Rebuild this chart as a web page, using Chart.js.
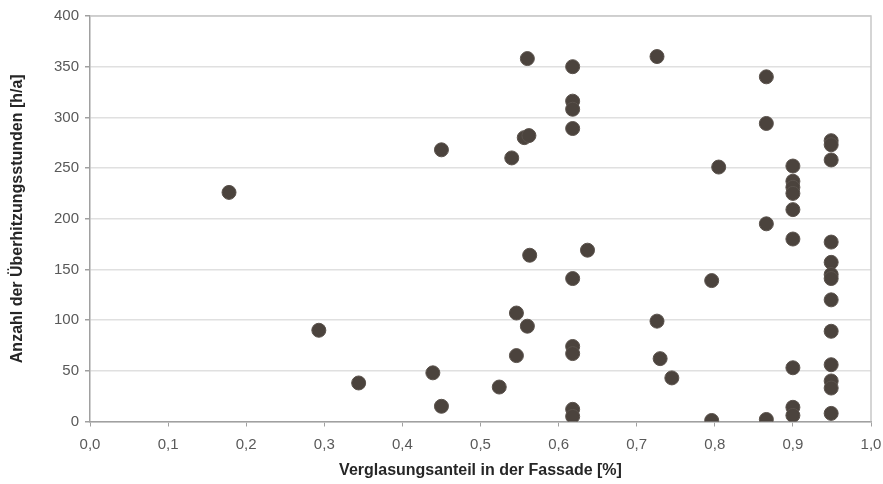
<!DOCTYPE html>
<html>
<head>
<meta charset="utf-8">
<script src="https://cdn.jsdelivr.net/npm/chart.js@4/dist/chart.umd.min.js"></script>
<style>
  body { margin: 0; background: #fff; }
  canvas { display: block; }
</style>
</head>
<body>
<canvas id="grafica" width="883" height="484"></canvas>
<script>
// Verglasungsanteil (x) und Überhitzungsstunden (y)
const verglasung = [
  0.178, 0.293, 0.344, 0.439, 0.450, 0.450,
  0.524, 0.540, 0.546, 0.546, 0.556, 0.560, 0.560, 0.562, 0.563,
  0.618, 0.618, 0.618, 0.618, 0.618, 0.618, 0.618, 0.618, 0.618, 0.637,
  0.726, 0.726, 0.730, 0.745,
  0.796, 0.796, 0.805,
  0.866, 0.866, 0.866, 0.866,
  0.900, 0.900, 0.900, 0.900, 0.900, 0.900, 0.900, 0.900, 0.900,
  0.949, 0.949, 0.949, 0.949, 0.949, 0.949, 0.949, 0.949, 0.949, 0.949, 0.949, 0.949, 0.949
];
const stunden = [
  226, 90, 38, 48, 268, 15,
  34, 260, 107, 65, 280, 358, 94, 282, 164,
  350, 316, 308, 289, 141, 74, 67, 12, 5, 169,
  360, 99, 62, 43,
  139, 1, 251,
  340, 294, 195, 2,
  252, 237, 231, 225, 209, 180, 53, 14, 6,
  277, 273, 258, 177, 157, 145, 141, 120, 89, 56, 40, 33, 8
];

const xTicks = [0, 0.1, 0.2, 0.3, 0.4, 0.5, 0.6, 0.7, 0.8, 0.9, 1.0];
const yTicks = [0, 50, 100, 150, 200, 250, 300, 350, 400];

const punkte = verglasung.map((x, i) => ({ x: x, y: stunden[i] }));

// Rahmen oben und rechts um die Zeichenfläche
const rahmen = {
  id: 'rahmen',
  afterDatasetsDraw(chart) {
    const a = chart.chartArea;
    const ctx = chart.ctx;
    ctx.save();
    ctx.strokeStyle = '#c8c8c8';
    ctx.lineWidth = 1.5;
    ctx.beginPath();
    ctx.moveTo(a.left, a.top);
    ctx.lineTo(a.right, a.top);
    ctx.lineTo(a.right, a.bottom);
    ctx.stroke();
    ctx.restore();
  }
};

const tickFont = { family: 'Liberation Sans, Arial, sans-serif', size: 15 };
const titleFont = { family: 'Liberation Sans, Arial, sans-serif', size: 16, weight: 'bold' };

new Chart(document.getElementById('grafica'), {
  type: 'scatter',
  data: {
    datasets: [{
      label: 'Überhitzungsstunden',
      data: punkte,
      backgroundColor: '#4b433d',
      borderColor: '#5a524c',
      borderWidth: 1,
      pointRadius: 7,
      pointHoverRadius: 7
    }]
  },
  plugins: [rahmen],
  options: {
    responsive: false,
    animation: false,
    layout: { padding: { top: 16, right: 12, left: 0, bottom: 0 } },
    plugins: { legend: { display: false }, tooltip: { enabled: false } },
    scales: {
      x: {
        type: 'linear',
        min: 0, max: 1,
        afterBuildTicks: s => { s.ticks = xTicks.map(v => ({ value: v })); },
        afterFit: s => { s.height = 62.5; s.paddingLeft = 0; s.paddingRight = 0; },
        ticks: {
          color: '#595959', font: tickFont, padding: 9,
          callback: v => v.toFixed(1).replace('.', ',')
        },
        grid: { drawOnChartArea: false, color: '#a0a0a0', tickLength: 5, lineWidth: 1 },
        border: { color: '#a0a0a0', width: 1.5 },
        title: {
          display: true, text: 'Verglasungsanteil in der Fassade [%]',
          color: '#262626', font: titleFont, padding: { top: 0, bottom: 4 }
        }
      },
      y: {
        min: 0, max: 400,
        afterBuildTicks: s => { s.ticks = yTicks.map(v => ({ value: v })); },
        afterFit: s => { s.width = 90; s.paddingTop = 0; s.paddingBottom = 0; },
        ticks: { color: '#595959', font: tickFont, padding: 6 },
        grid: { color: '#e0e0e0', tickColor: '#a0a0a0', tickLength: 5, lineWidth: 1.5 },
        border: { color: '#a0a0a0', width: 1.5 },
        title: {
          display: true, text: 'Anzahl der Überhitzungsstunden [h/a]',
          color: '#262626', font: titleFont, padding: { top: 8, bottom: 0 }
        }
      }
    }
  }
});
</script>
</body>
</html>
